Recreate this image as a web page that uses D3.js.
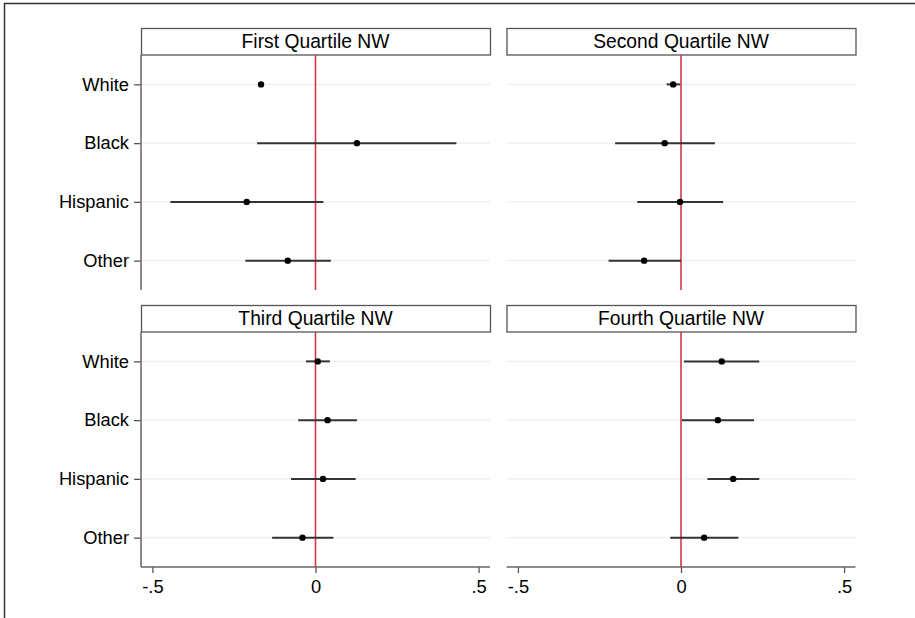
<!DOCTYPE html>
<html>
<head>
<meta charset="utf-8">
<script src="https://cdn.jsdelivr.net/npm/d3@7"></script>
<style>
  body { margin: 0; background: #fff; }
  svg { display: block; font-family: "Liberation Sans", Arial, sans-serif; }
</style>
</head>
<body>
<svg id="chart" width="915" height="618"></svg>
<script>
// data
var groups = ["White", "Black", "Hispanic", "Other"];
var panels = ["First Quartile NW", "Second Quartile NW", "Third Quartile NW", "Fourth Quartile NW"];
var xTicks = [-0.5, 0, 0.5];
var xTickLabels = ["-.5", "0", ".5"];

// point estimates per panel (same order as groups)
var est1 = [-0.167, 0.127, -0.211, -0.085];
var est2 = [-0.024, -0.050, -0.003, -0.113];
var est3 = [0.007, 0.037, 0.023, -0.040];
var est4 = [0.125, 0.113, 0.160, 0.071];

// confidence interval lows and highs
var lo1 = [-0.176, -0.179, -0.445, -0.215];
var hi1 = [-0.158, 0.432, 0.024, 0.047];
var lo2 = [-0.044, -0.202, -0.134, -0.222];
var hi2 = [-0.002, 0.104, 0.129, 0.000];
var lo3 = [-0.029, -0.053, -0.075, -0.133];
var hi3 = [0.044, 0.127, 0.123, 0.055];
var lo4 = [0.009, 0.003, 0.081, -0.033];
var hi4 = [0.240, 0.224, 0.240, 0.176];

var allEst = [est1, est2, est3, est4];
var allLo = [lo1, lo2, lo3, lo4];
var allHi = [hi1, hi2, hi3, hi4];

var svg = d3.select("#chart");

// outer frame
svg.append("rect")
    .attr("x", 4.5).attr("y", 3.5)
    .attr("width", 920).attr("height", 630)
    .attr("fill", "none")
    .attr("stroke", "#333")
    .attr("stroke-width", 1.5);

var plotW = 349, plotH = 235, headH = 26.5;
var lefts = [141, 506.5];
var tops = [55, 332];

var x = d3.scaleLinear().domain([-0.535, 0.535]).range([0, plotW]);
var y = d3.scalePoint().domain(groups).range([0, plotH]).padding(0.5);

panels.forEach(function(title, p) {
    var col = p % 2, row = Math.floor(p / 2);
    var g = svg.append("g")
        .attr("transform", "translate(" + lefts[col] + "," + tops[row] + ")");

    // header box
    g.append("rect")
        .attr("x", 0.5).attr("y", -headH)
        .attr("width", plotW).attr("height", headH)
        .attr("fill", "#fff")
        .attr("stroke", "#555")
        .attr("stroke-width", 1.3);
    g.append("text")
        .attr("x", plotW / 2).attr("y", -headH / 2)
        .attr("text-anchor", "middle")
        .attr("dominant-baseline", "central")
        .attr("font-size", 19.3)
        .attr("fill", "#000")
        .text(title);

    // gridlines
    g.selectAll(".grid")
        .data(groups)
        .enter().append("line")
        .attr("class", "grid")
        .attr("x1", 0).attr("x2", plotW)
        .attr("y1", function(d) { return y(d); })
        .attr("y2", function(d) { return y(d); })
        .attr("stroke", "#e8f0f2")
        .attr("stroke-width", 1.2);

    // y axis only on left column
    if (col == 0) {
        var yAxis = g.append("g")
            .call(d3.axisLeft(y).tickSize(7).tickPadding(5));
        yAxis.select(".domain").remove();
        yAxis.selectAll(".tick line").attr("stroke", "#555").attr("stroke-width", 1.3);
        yAxis.selectAll(".tick text")
            .attr("font-size", 18.3)
            .attr("fill", "#000")
            .attr("font-family", "Liberation Sans, Arial, sans-serif");
        g.append("line")
            .attr("x1", 0).attr("x2", 0)
            .attr("y1", 0).attr("y2", plotH)
            .attr("stroke", "#666").attr("stroke-width", 1.5);
    }

    // x axis only on bottom row
    if (row == 1) {
        var xAxis = g.append("g")
            .attr("transform", "translate(0," + plotH + ")")
            .call(d3.axisBottom(x).tickValues(xTicks).tickSize(6).tickPadding(7)
                .tickFormat(function(d, i) { return xTickLabels[i]; }));
        xAxis.select(".domain").remove();
        xAxis.selectAll(".tick line").attr("stroke", "#555").attr("stroke-width", 1.3);
        xAxis.selectAll(".tick text")
            .attr("font-size", 18.3)
            .attr("fill", "#000")
            .attr("font-family", "Liberation Sans, Arial, sans-serif");
        g.append("line")
            .attr("x1", 0).attr("x2", plotW)
            .attr("y1", plotH).attr("y2", plotH)
            .attr("stroke", "#666").attr("stroke-width", 1.5);
    }

    // reference line at zero
    g.append("line")
        .attr("x1", x(0)).attr("x2", x(0))
        .attr("y1", 0).attr("y2", plotH)
        .attr("stroke", "#d23a48")
        .attr("stroke-width", 1.6);

    var rows = groups.map(function(k, i) {
        return { group: k, est: allEst[p][i], lo: allLo[p][i], hi: allHi[p][i] };
    });

    // CI bars
    g.selectAll(".ci")
        .data(rows)
        .enter().append("line")
        .attr("class", "ci")
        .attr("x1", function(d) { return x(d.lo); })
        .attr("x2", function(d) { return x(d.hi); })
        .attr("y1", function(d) { return y(d.group); })
        .attr("y2", function(d) { return y(d.group); })
        .attr("stroke", "#333")
        .attr("stroke-width", 2);

    // point estimates
    g.selectAll(".dot")
        .data(rows)
        .enter().append("circle")
        .attr("class", "dot")
        .attr("cx", function(d) { return x(d.est); })
        .attr("cy", function(d) { return y(d.group); })
        .attr("r", 3.2)
        .attr("fill", "#000");
});
</script>
</body>
</html>
